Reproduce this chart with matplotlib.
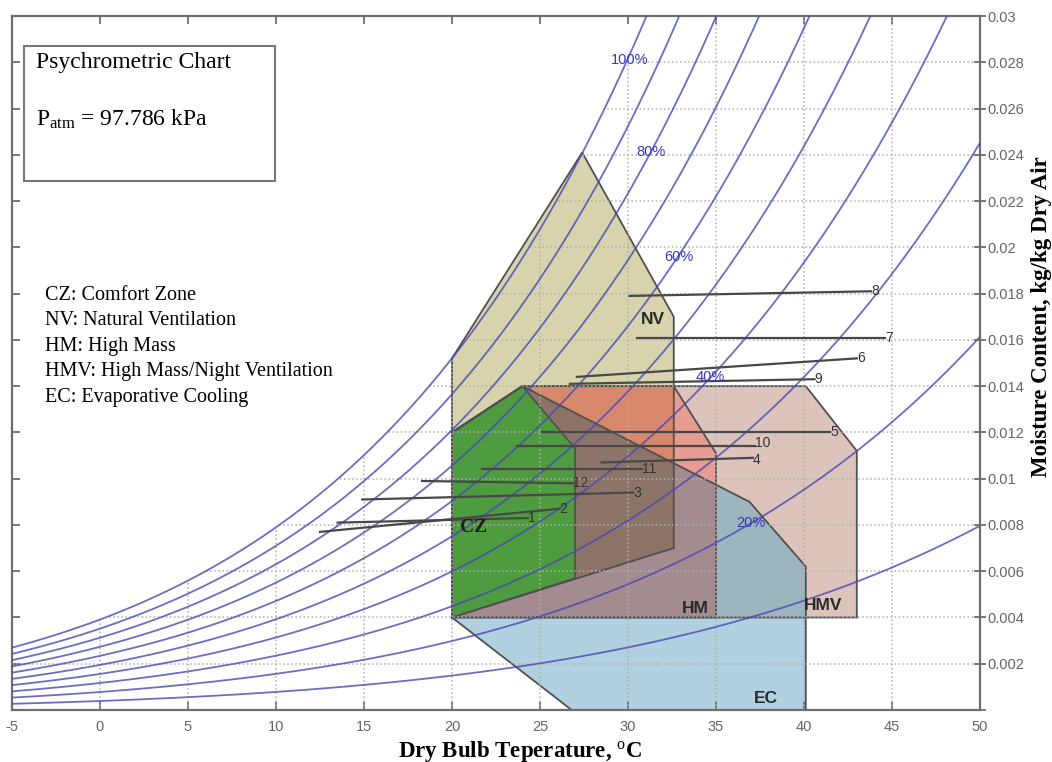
import numpy as np
import matplotlib
matplotlib.use('Agg')
import matplotlib.pyplot as plt
from matplotlib.patches import Polygon, Rectangle

plt.rcParams['mathtext.fontset'] = 'custom'
plt.rcParams['mathtext.rm'] = 'Liberation Serif'
plt.rcParams['mathtext.it'] = 'Liberation Serif:italic'
plt.rcParams['mathtext.bf'] = 'Liberation Serif:bold'

# chart settings / data
p_atm = 97.786
rh_levels = [10, 20, 30, 40, 50, 60, 70, 80, 90, 100]
rh_labels = ['100%', '80%', '60%', '40%', '20%']
rh_label_x = [30.1, 31.3, 32.9, 34.7, 37.0]
rh_label_w = [0.0281, 0.0241, 0.0196, 0.0144, 0.0081]

x_ticks = [-5, 0, 5, 10, 15, 20, 25, 30, 35, 40, 45, 50]
y_ticks = [0, 0.002, 0.004, 0.006, 0.008, 0.01, 0.012, 0.014, 0.016,
           0.018, 0.02, 0.022, 0.024, 0.026, 0.028, 0.03]

# monthly lines (min temp, max temp, moisture at each end)
months = ['1', '2', '3', '4', '5', '6', '7', '8', '9', '10', '11', '12']
t_lo = [13.5, 12.5, 14.9, 28.5, 25.1, 27.1, 30.5, 30.1, 26.7, 23.7, 21.7, 18.3]
t_hi = [24.3, 26.1, 30.3, 37.1, 41.5, 43.0, 44.6, 43.8, 40.6, 37.2, 30.8, 26.9]
w_lo = [0.0081, 0.0077, 0.0091, 0.0107, 0.0120, 0.0144, 0.0161, 0.0179,
        0.0141, 0.0114, 0.0104, 0.0099]
w_hi = [0.0083, 0.0087, 0.0094, 0.0109, 0.0120, 0.0152, 0.0161, 0.0181,
        0.0143, 0.0114, 0.0104, 0.0098]
label_dy = [0, 0, 0, -1.5, 0, 0, 0, 0, 0, 2.5, 0, 0]

# zone outlines
nv = [(20, 0.004), (20, 0.0152), (27.4, 0.0241), (32.6, 0.0170), (32.6, 0.0070)]
hmv = [(20, 0.004), (20, 0.012), (24, 0.014), (40.1, 0.014), (43.0, 0.0112), (43.0, 0.004)]
hm = [(20, 0.004), (20, 0.012), (24, 0.014), (32.6, 0.014), (35, 0.0111), (35, 0.004)]
ec = [(20, 0.004), (26.8, 0), (40.1, 0), (40.1, 0.0062), (36.9, 0.0090), (24, 0.014), (20, 0.012)]
cz = [(20, 0.004), (20, 0.012), (24, 0.014), (27, 0.0113), (27, 0.0057)]

# overlap pieces, each with its own colour
ec_low = [(20, 0.004), (26.8, 0), (40.1, 0), (40.1, 0.004)]
ec_hmv = [(35, 0.004), (40.1, 0.004), (40.1, 0.0062), (36.9, 0.0090), (35, 0.00973)]
hm_ec = [(20, 0.004), (35, 0.004), (35, 0.00973), (24, 0.014), (20, 0.012)]
hm_ec_nv = [(20, 0.004), (32.6, 0.0070), (32.6, 0.01067), (24, 0.014)]
hm_hmv = [(24, 0.014), (32.6, 0.014), (35, 0.0111), (35, 0.00973)]
hm_nv = [(24, 0.014), (32.6, 0.014), (32.6, 0.01067)]

zone_names = ['NV', 'HM', 'HMV', 'EC', 'CZ']
zone_x = [31.4, 33.8, 41.1, 37.85, 21.2]
zone_y = [0.0169, 0.0044, 0.0045, 0.0005, 0.0079]

legend_lines = ['CZ: Comfort Zone', 'NV: Natural Ventilation', 'HM: High Mass',
                'HMV: High Mass/Night Ventilation', 'EC: Evaporative Cooling']


def w_of(t, rh):
    pws = 0.61094 * np.exp(17.625 * t / (t + 243.04))
    pw = rh / 100.0 * pws
    return 0.622 * pw / (p_atm - pw)


fig = plt.figure(figsize=(10.52, 7.62), dpi=100)
ax = fig.add_axes([12 / 1052, 52 / 762, 968 / 1052, 694 / 762])
ax.set_xlim(-5, 50)
ax.set_ylim(0, 0.03)

# zones
fills = [(nv, '#d7d4ad'), (hmv, '#dcc4bc'), (ec_low, '#b1d1e1'), (ec_hmv, '#9db5bf'),
         (hm_ec, '#a38b8f'), (hm_ec_nv, '#8d7469'), (hm_hmv, '#e79c92'),
         (hm_nv, '#d8886c'), (cz, '#4e9b40')]
for verts, col in fills:
    ax.add_patch(Polygon(verts, closed=True, facecolor=col, edgecolor='none', zorder=1))
for verts in [nv, hmv, hm, ec, cz]:
    ax.add_patch(Polygon(verts, closed=True, fill=False, edgecolor='#505050', lw=1.3, zorder=1.6))

# grid, only below the saturation curve
tt = np.linspace(-5, 50, 400)
sat = w_of(tt, 100)
clip = Polygon(np.column_stack([np.r_[-5, tt, 50], np.r_[0, sat, 0]]),
               closed=True, transform=ax.transData)
for x in x_ticks[1:-1]:
    gl = ax.axvline(x, color='#b0b0b0', ls=':', lw=1.1, zorder=2)
    gl.set_clip_path(clip)
for y in y_ticks[1:-1]:
    gl = ax.axhline(y, color='#b0b0b0', ls=':', lw=1.1, zorder=2)
    gl.set_clip_path(clip)

# relative humidity curves
for rh in rh_levels:
    ax.plot(tt, w_of(tt, rh), color='#4848b4', lw=1.3, alpha=0.8, zorder=3)
for lab, x, y in zip(rh_labels, rh_label_x, rh_label_w):
    ax.text(x, y, lab, color='#3535c0', fontsize=10.5, family='Liberation Sans',
            ha='center', va='center', zorder=6)

# monthly lines
for m, x0, x1, y0, y1, dy in zip(months, t_lo, t_hi, w_lo, w_hi, label_dy):
    ax.plot([x0, x1], [y0, y1], color='#484848', lw=1.6, zorder=4)
    ax.annotate(m, (x1, y1), xytext=(0, dy), textcoords='offset points',
                ha='left', va='center', fontsize=10, color='#333333',
                family='Liberation Sans', zorder=6)

# zone labels
for name, x, y in zip(zone_names, zone_x, zone_y):
    if name == 'CZ':
        ax.text(x, y, name, fontsize=14, family='Liberation Serif', weight='bold',
                color='#1e1e1e', ha='center', va='center', zorder=6)
    else:
        ax.text(x, y, name, fontsize=12.5, family='Liberation Sans', weight='bold',
                color='#2a2a2a', ha='center', va='center', zorder=6)

# axes styling: left/top/bottom ticks point inward, right axis carries the labels
ax.set_xticks(x_ticks)
ax.set_xticklabels([str(v) for v in x_ticks])
ax.set_yticks(y_ticks)
ax.tick_params(axis='both', direction='in', length=6, width=1.3, color='#6e6e6e',
               labelcolor='#666666', labelsize=10.5)
ax.tick_params(axis='x', top=True, pad=7)
ax.tick_params(axis='y', left=True, right=False, labelleft=False)
for lbl in ax.get_xticklabels():
    lbl.set_family('Liberation Sans')
for sp in ax.spines.values():
    sp.set_color('#6e6e6e')
    sp.set_linewidth(1.6)

ax2 = ax.twinx()
ax2.set_ylim(0, 0.03)
ax2.set_yticks(y_ticks)
ax2.set_yticklabels(['' if v == 0 else f'{v:g}' for v in y_ticks])
ax2.tick_params(axis='y', direction='inout', length=9, width=1.3, color='#6e6e6e',
                labelcolor='#666666', labelsize=10.5, pad=1)
for lbl in ax2.get_yticklabels():
    lbl.set_family('Liberation Sans')
for sp in ax2.spines.values():
    sp.set_visible(False)

# title box
ax.add_patch(Rectangle((0.0124, 0.7622), 0.2593, 0.1946, transform=ax.transAxes,
                       facecolor='white', edgecolor='#777777', lw=1.5, zorder=7))
fig.text(36 / 1052, 1 - 68 / 762, 'Psychrometric Chart', family='Liberation Serif',
         fontsize=17, va='baseline', ha='left', zorder=8)
fig.text(36 / 1052, 1 - 126 / 762, r'P$_{\rm atm}$ = 97.786 kPa', family='Liberation Serif',
         fontsize=17, va='baseline', ha='left', zorder=8)

for i, line in enumerate(legend_lines):
    fig.text(45 / 1052, 1 - (300 + 25.4 * i) / 762, line, family='Liberation Serif',
             fontsize=14.5, va='baseline', ha='left')

fig.text(520 / 1052, 1 - 757 / 762, 'Dry Bulb Teperature, $^{\\rm o}$C',
         family='Liberation Serif', weight='bold', fontsize=16.5, ha='center', va='baseline')
fig.text(1042 / 1052, 1 - 317 / 762, 'Moisture Content, kg/kg Dry Air',
         family='Liberation Serif', weight='bold', fontsize=16.5, rotation=90,
         ha='center', va='center')

fig.savefig('out.png', dpi=100)
